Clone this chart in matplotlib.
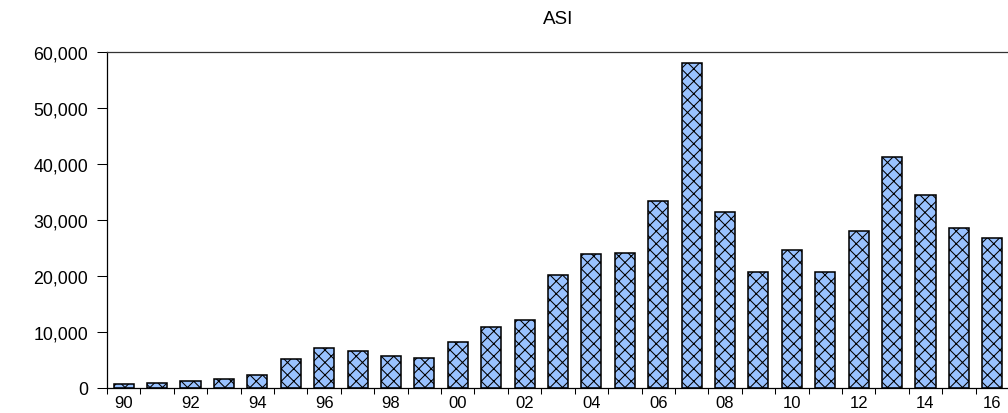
import matplotlib.pyplot as plt
import numpy as np
from matplotlib.ticker import FuncFormatter, FixedLocator

# ASI yearly values, 1990-2016
years = list(range(1990, 2017))
asi = [700, 830, 1190, 1600, 2300, 5160, 7120, 6530, 5750, 5340,
       8130, 10980, 12160, 20120, 23860, 24150, 33410, 57980, 31370, 20770,
       24700, 20710, 27980, 41190, 34520, 28510, 26730]
year_labels = [f"{y % 100:02d}" for y in years]

plt.rcParams['font.family'] = ['Liberation Sans', 'DejaVu Sans']
plt.rcParams['hatch.linewidth'] = 1.0

fig = plt.figure(figsize=(13.44, 5.52), dpi=75)
ax = fig.add_axes([107 / 1008, 25 / 414, 902 / 1008, 336 / 414])

x = np.arange(len(years))
ax.bar(x, asi, width=0.6, color='#99c2ff', edgecolor='black',
       linewidth=1.5, hatch='xx')

ax.set_xlim(-0.5, len(years) - 0.5)
ax.set_ylim(0, 60000)

# tick marks at bar boundaries, labels on every other bar
ax.xaxis.set_major_locator(FixedLocator(np.arange(len(years) + 1) - 0.5))
ax.xaxis.set_major_formatter(FuncFormatter(lambda v, p: ""))
ax.xaxis.set_minor_locator(FixedLocator(x[::2]))
ax.set_xticklabels(year_labels[::2], minor=True)
ax.tick_params(axis='x', which='major', length=6, width=1, direction='out')
ax.tick_params(axis='x', which='minor', length=0, pad=7, labelsize=16)

ax.set_yticks(range(0, 60001, 10000))
ax.yaxis.set_major_formatter(FuncFormatter(lambda v, p: f"{int(v):,}"))
ax.tick_params(axis='y', length=10, width=1, pad=8, labelsize=17)

for s in ['left', 'top', 'bottom', 'right']:
    ax.spines[s].set_linewidth(1.2)
ax.spines['top'].set_color('#333333')

ax.set_title("ASI", fontsize=18, pad=28)

fig.savefig("out.png", dpi=75)
